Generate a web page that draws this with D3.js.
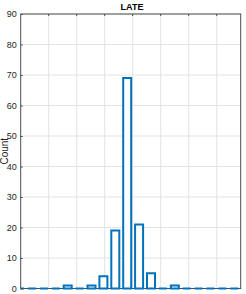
<!DOCTYPE html>
<html>
<head>
<meta charset="utf-8">
<script src="https://cdn.jsdelivr.net/npm/d3@7"></script>
<style>
  body { margin: 0; background: #fff; }
  svg { display: block; }
</style>
</head>
<body>
<div id="canvas"></div>
<script>
// histogram of LATE estimates, bin edges and counts
const binEdges = [-0.4234, -0.3809, -0.3384, -0.2959, -0.2534, -0.2109, -0.1684, -0.1259,
                  -0.0834, -0.0409, 0.0016, 0.0441, 0.0866, 0.1291, 0.1716, 0.2141,
                  0.2566, 0.2991, 0.3416, 0.3841]
const counts = [0, 0, 0, 0, 1, 0, 1, 4, 19, 69, 21, 5, 0, 1, 0, 0, 0, 0, 0]
const xTicks = [-0.3, -0.2, -0.1, 0, 0.1, 0.2, 0.3]
const yTicks = [0, 10, 20, 30, 40, 50, 60, 70, 80, 90]

const width = 246, height = 294
const margin = {top: 14, left: 20.7, right: 5.3, bottom: 5.5}
const font = '"Liberation Sans Narrow", "Liberation Sans", Arial, sans-serif'

const svg = d3.select('#canvas').append('svg')
  .attr('width', width)
  .attr('height', height)

const x = d3.scaleLinear()
  .domain([-0.4, 0.3857])
  .range([margin.left, width - margin.right])

const y = d3.scaleLinear()
  .domain([0, 90])
  .range([height - margin.bottom, margin.top])

svg.append('clipPath').attr('id', 'plotclip')
  .append('rect')
  .attr('x', margin.left).attr('y', margin.top - 2)
  .attr('width', width - margin.left - margin.right)
  .attr('height', height - margin.top - margin.bottom + 4)

// grid
const grid = svg.append('g')
grid.selectAll('.gx').data(xTicks).enter().append('line')
  .attr('x1', d => x(d)).attr('x2', d => x(d))
  .attr('y1', y(0)).attr('y2', y(90))
  .attr('stroke', '#e3e3e3').attr('stroke-width', 1)
grid.selectAll('.gy').data(yTicks).enter().append('line')
  .attr('x1', x.range()[0]).attr('x2', x.range()[1])
  .attr('y1', d => y(d)).attr('y2', d => y(d))
  .attr('stroke', '#e3e3e3').attr('stroke-width', 1)

// box
svg.append('rect')
  .attr('x', margin.left).attr('y', margin.top)
  .attr('width', width - margin.left - margin.right)
  .attr('height', height - margin.top - margin.bottom)
  .attr('fill', 'none').attr('stroke', '#4d4d4d').attr('stroke-width', 1)

// bars
let bins = counts.map((c, i) => ({x0: binEdges[i], x1: binEdges[i + 1], n: c}))
const gap = 1.9
svg.append('g').attr('clip-path', 'url(#plotclip)')
  .selectAll('path').data(bins).enter().append('path')
  .attr('d', d => {
    let l = x(d.x0) + gap / 2 + 1, r = x(d.x1) - gap / 2 - 1
    let b = y(0), t = y(d.n)
    return `M${l},${b}L${l},${t}L${r},${t}L${r},${b}Z`
  })
  .attr('fill', d => d.n > 0 ? '#fff' : 'none')
  .attr('stroke', '#0072BD')
  .attr('stroke-width', 2)

// y axis
let yAxis = svg.append('g')
  .attr('transform', `translate(${margin.left},0)`)
  .call(d3.axisLeft(y).tickValues(yTicks).tickSize(-2).tickPadding(4))
yAxis.select('.domain').remove()
yAxis.selectAll('line').attr('stroke', '#4d4d4d')
yAxis.selectAll('text').attr('fill', '#262626').attr('font-size', 9).attr('font-family', font)

// x ticks (no labels)
svg.append('g').selectAll('line').data(xTicks).enter().append('line')
  .attr('x1', d => x(d)).attr('x2', d => x(d))
  .attr('y1', margin.top).attr('y2', margin.top + 2)
  .attr('stroke', '#4d4d4d')

svg.append('text')
  .text('Count')
  .attr('transform', `translate(8,${(y(0) + y(90)) / 2}) rotate(-90)`)
  .attr('text-anchor', 'middle')
  .attr('font-family', '"Liberation Sans", Arial, sans-serif')
  .attr('font-size', 10)
  .attr('fill', '#262626')

svg.append('text')
  .text('LATE')
  .attr('x', 132).attr('y', 10)
  .attr('text-anchor', 'middle')
  .attr('font-family', font)
  .attr('font-weight', 'bold')
  .attr('font-size', 9)
  .attr('fill', '#000')
</script>
</body>
</html>
